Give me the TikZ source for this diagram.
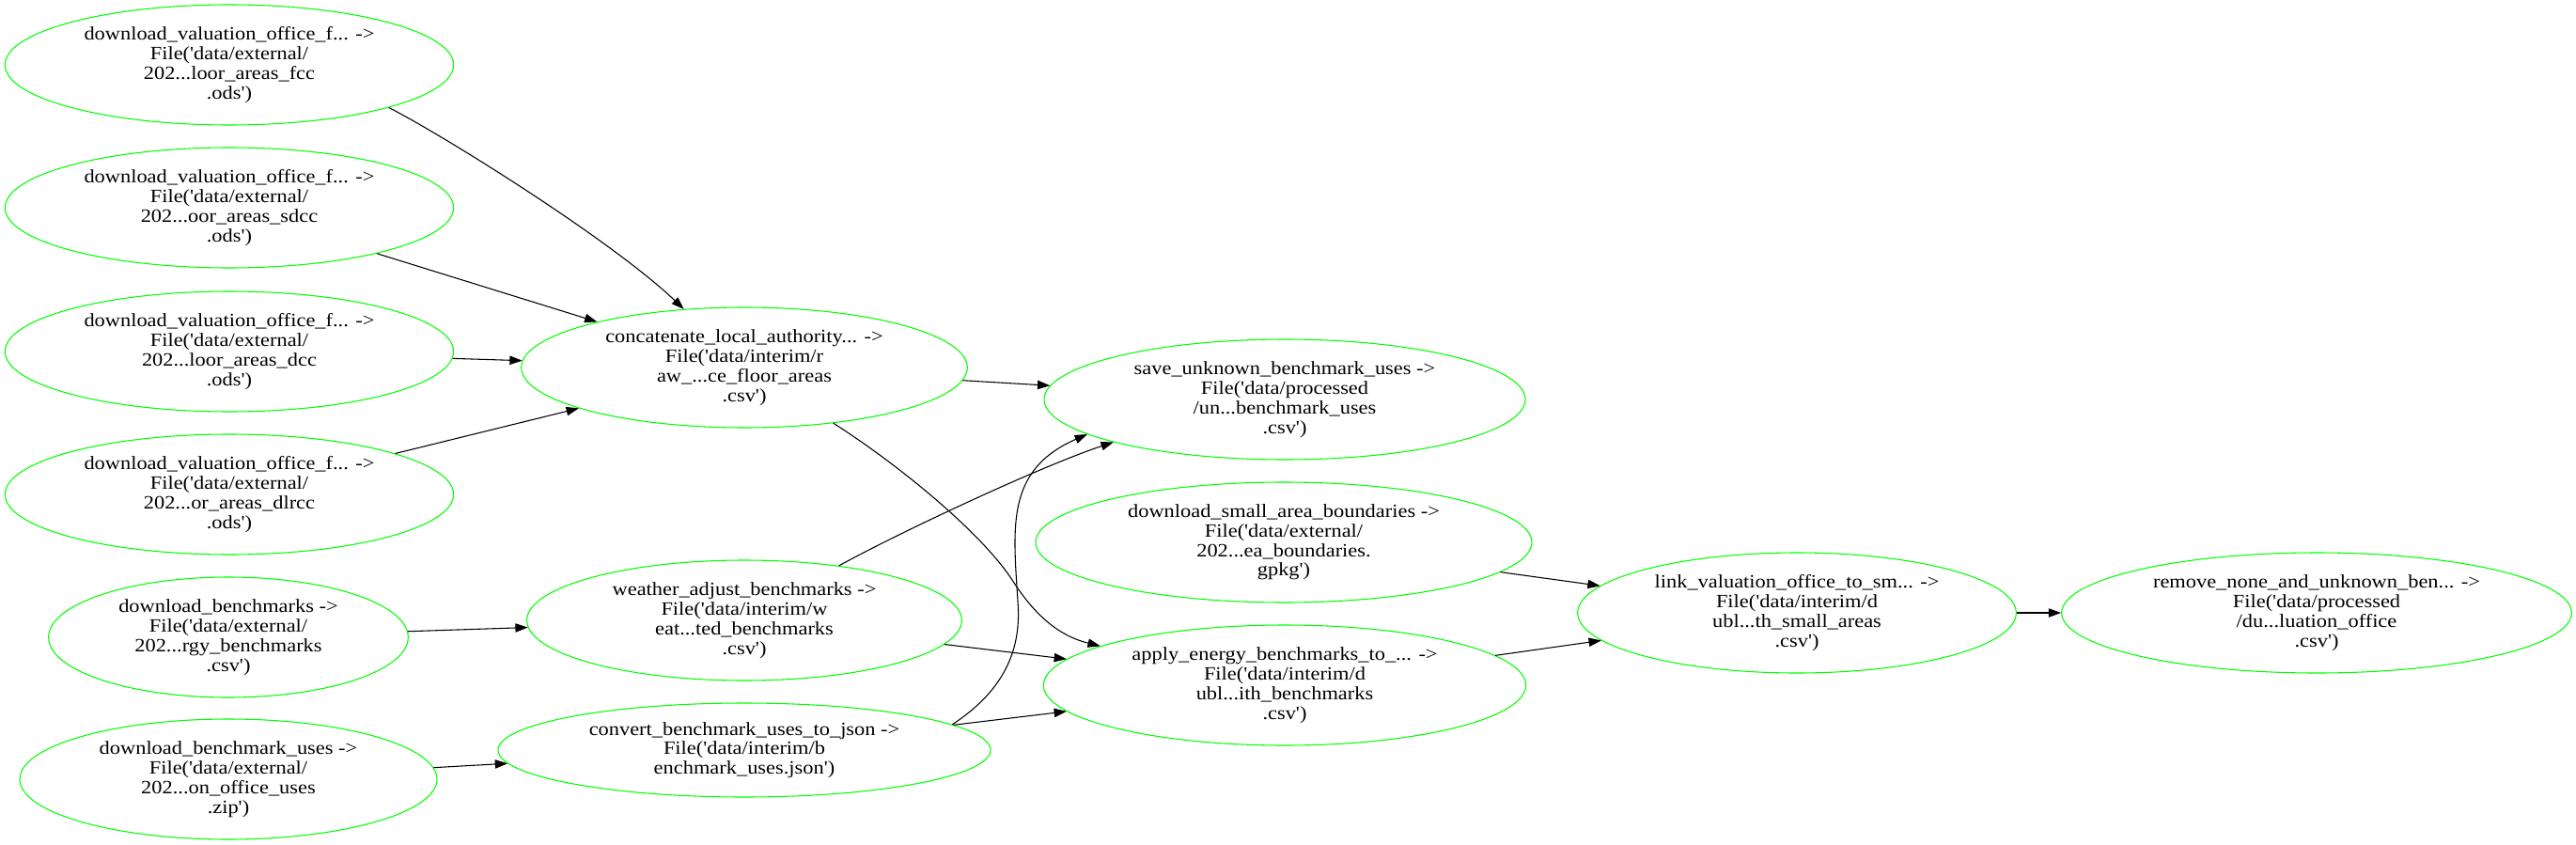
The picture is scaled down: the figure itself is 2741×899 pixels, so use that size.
\documentclass[tikz,border=0pt]{standalone}
\usepackage{fontspec}
\setmainfont{Liberation Serif}[Ligatures=TeXOff,FakeStretch=1.12]
\usepackage{tikz}
\usetikzlibrary{shapes,arrows.meta}
\definecolor{taskgreen}{RGB}{0,255,0}

\begin{document}
\begin{tikzpicture}[x=0.75pt,y=-0.75pt,
  task/.style={ellipse,draw=taskgreen,line width=0.8pt,inner sep=0pt,
    minimum height=96pt,minimum width=#1,align=center,
    font=\fontsize{15}{15.6}\selectfont},
  dep/.style={-{Triangle[length=10pt,width=7pt]},line width=0.8pt}]

% to fix the page size
\useasboundingbox (0,0) rectangle (2741,899);

%Download tasks:
\node [task=358pt] (fcc) at (244,69) {download\_valuation\_office\_f... ->\\File('data/external/\\202...loor\_areas\_fcc\\.ods')};
\node [task=358pt] (sdcc) at (244,221) {download\_valuation\_office\_f... ->\\File('data/external/\\202...oor\_areas\_sdcc\\.ods')};
\node [task=358pt] (dcc) at (244,374) {download\_valuation\_office\_f... ->\\File('data/external/\\202...loor\_areas\_dcc\\.ods')};
\node [task=358pt] (dlrcc) at (244,526) {download\_valuation\_office\_f... ->\\File('data/external/\\202...or\_areas\_dlrcc\\.ods')};
\node [task=287pt] (bench) at (243,678) {download\_benchmarks ->\\File('data/external/\\202...rgy\_benchmarks\\.csv')};
\node [task=333pt] (uses) at (243,829) {download\_benchmark\_uses ->\\File('data/external/\\202...on\_office\_uses\\.zip')};

%Interim tasks:
\node [task=356pt] (concat) at (792,391) {concatenate\_local\_authority... ->\\File('data/interim/r\\aw\_...ce\_floor\_areas\\.csv')};
\node [task=347pt] (weather) at (792,660) {weather\_adjust\_benchmarks ->\\File('data/interim/w\\eat...ted\_benchmarks\\.csv')};
\node [task=393pt,minimum height=75pt] (convert) at (792,798) {convert\_benchmark\_uses\_to\_json ->\\File('data/interim/b\\enchmark\_uses.json')};

\node [task=384pt] (save) at (1367,425) {save\_unknown\_benchmark\_uses ->\\File('data/processed\\/un...benchmark\_uses\\.csv')};
\node [task=396pt] (small) at (1366,577) {download\_small\_area\_boundaries ->\\File('data/external/\\202...ea\_boundaries.\\gpkg')};
\node [task=385pt] (apply) at (1367,729) {apply\_energy\_benchmarks\_to\_... ->\\File('data/interim/d\\ubl...ith\_benchmarks\\.csv')};

%Final tasks:
\node [task=350pt] (link) at (1912,652) {link\_valuation\_office\_to\_sm... ->\\File('data/interim/d\\ubl...th\_small\_areas\\.csv')};
\node [task=407pt] (remove) at (2465,652) {remove\_none\_and\_unknown\_ben... ->\\File('data/processed\\/du...luation\_office\\.csv')};

% to draw dependencies
\draw [dep] (fcc.-15) .. controls (470,143) and (650,255) .. (concat.136);
\draw [dep] (sdcc) -- (concat);
\draw [dep] (dcc) -- (concat);
\draw [dep] (dlrcc) -- (concat);
\draw [dep] (bench) -- (weather);
\draw [dep] (uses) -- (convert);

\draw [dep] (concat) -- (save);
\draw [dep] (concat.-32) .. controls (960,497) and (1045,568) .. (1077,617)
  .. controls (1095,645) and (1120,675) .. (apply.168);
\draw [dep] (weather.30) .. controls (960,565) and (1110,495) .. (save.-166);
\draw [dep] (weather) -- (apply);
\draw [dep] (convert.7) .. controls (1060,740) and (1088,700) .. (1083,640)
  .. controls (1078,560) and (1070,500) .. (save.-170);
\draw [dep] (convert) -- (apply);

\draw [dep] (small) -- (link);
\draw [dep] (apply) -- (link);
\draw [dep] (link) -- (remove);
\end{tikzpicture}
\end{document}
